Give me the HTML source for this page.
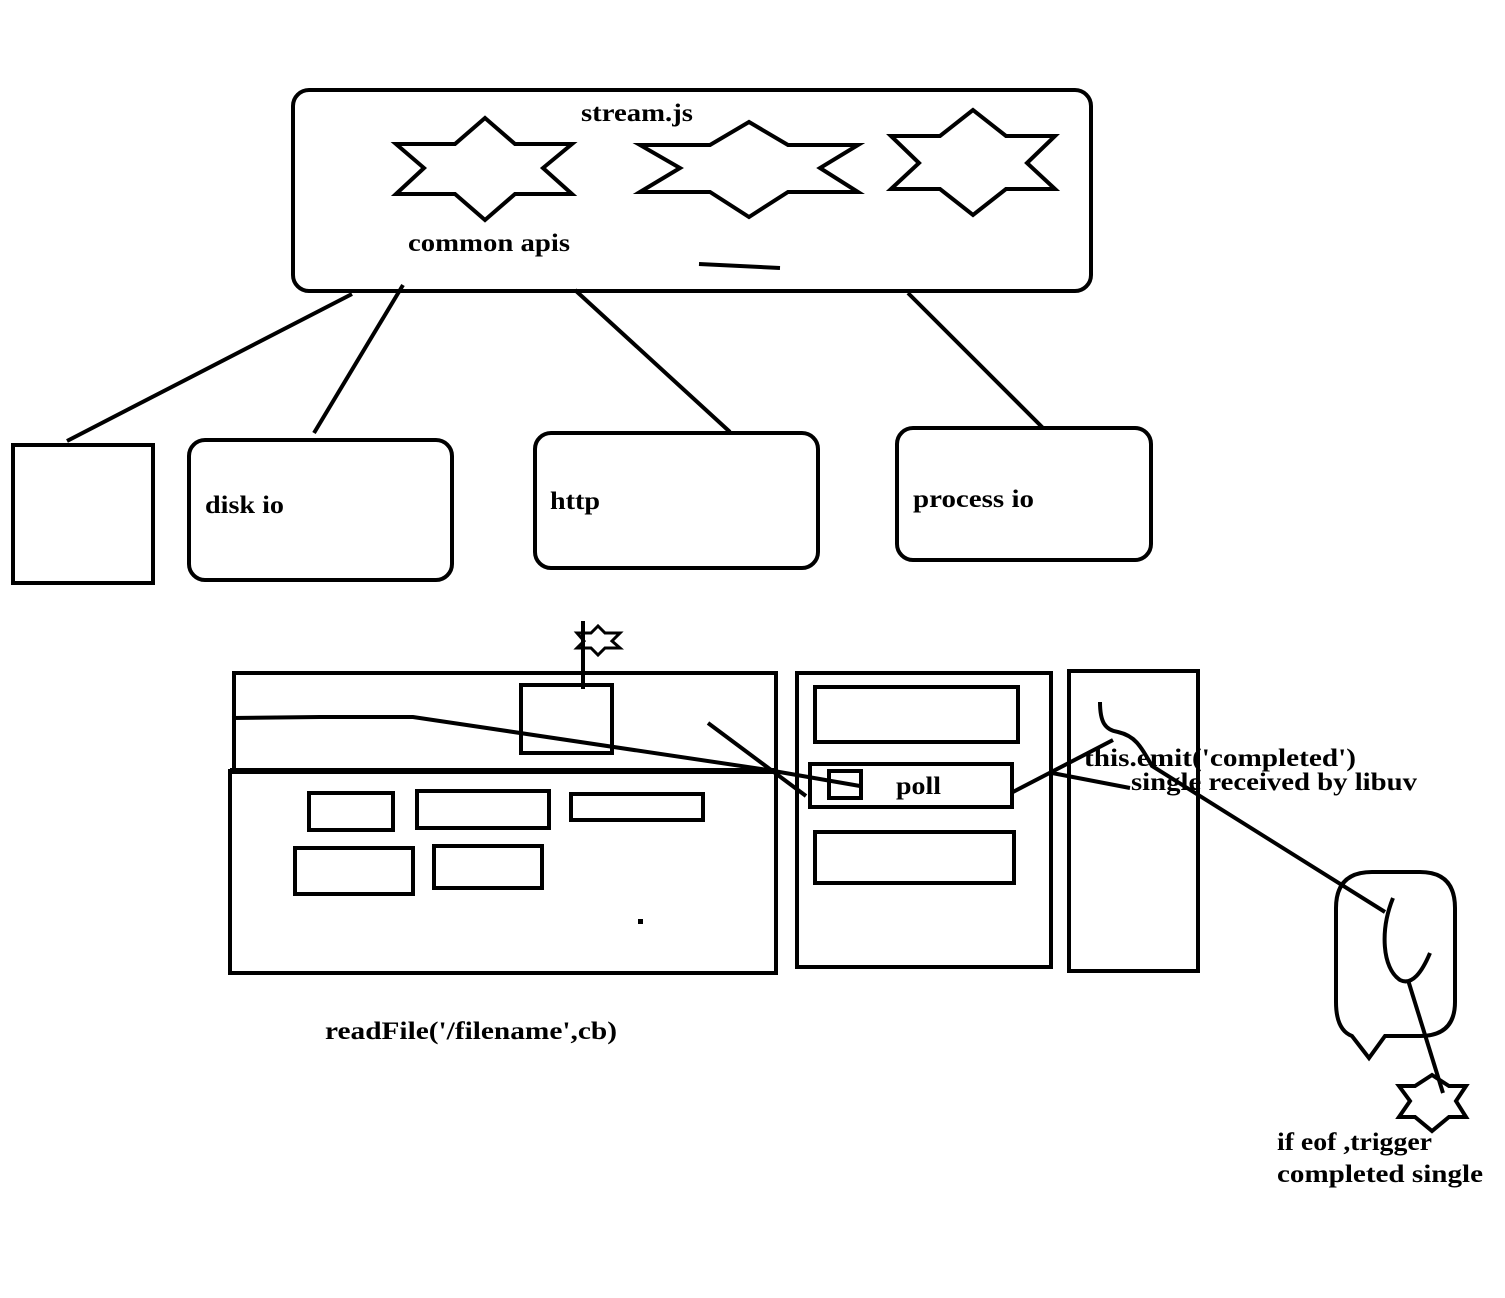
<!DOCTYPE html>
<html><head><meta charset="utf-8"><style>
html,body{margin:0;padding:0;background:#fff;}
svg{display:block;}
text{font-family:"Liberation Serif",serif;font-weight:bold;font-size:25px;fill:#000;}
</style></head><body>
<svg width="1505" height="1298" viewBox="0 0 1505 1298" xmlns="http://www.w3.org/2000/svg">
<g fill="none" stroke="#000" stroke-width="4" stroke-linejoin="miter">
<rect x="293" y="90" width="798" height="201" rx="16"/>
<polygon points="485,118 455,144 396,144 424,168 396,194 455,194 485,220 515,194 572,194 543,168 572,144 515,144"/>
<polygon points="749,122 710,145 640,145 680,168 640,192 710,192 749,217 788,192 858,192 820,168 858,145 788,145"/>
<polygon points="973,110 940,136 891,136 919,163 891,189 940,189 973,215 1006,189 1055,189 1027,163 1055,136 1006,136"/>
<line x1="699" y1="264" x2="780" y2="268"/>
<line x1="352" y1="294" x2="67" y2="441"/>
<line x1="403" y1="285" x2="314" y2="433"/>
<line x1="575" y1="290" x2="730" y2="432"/>
<line x1="908" y1="293" x2="1043" y2="428"/>
<rect x="13" y="445" width="140" height="138"/>
<rect x="189" y="440" width="263" height="140" rx="16"/>
<rect x="535" y="433" width="283" height="135" rx="16"/>
<rect x="897" y="428" width="254" height="132" rx="16"/>

<rect x="234" y="673" width="542" height="98"/>
<rect x="230" y="771" width="546" height="202"/>
<line x1="230" y1="771" x2="776" y2="771" stroke-width="6"/>
<rect x="521" y="685" width="91" height="68"/>
<line x1="583" y1="621" x2="583" y2="689"/>
<polygon points="598,626 591,633 577,633 584,641 577,648 591,648 598,655 605,648 620,648 612,641 620,633 605,633" stroke-width="3"/>
<polyline points="232,718 320,717 413,717 768,770 860,786"/>
<line x1="708" y1="723" x2="806" y2="796"/>
<rect x="309" y="793" width="84" height="37"/>
<rect x="417" y="791" width="132" height="37"/>
<rect x="571" y="794" width="132" height="26"/>
<rect x="295" y="848" width="118" height="46"/>
<rect x="434" y="846" width="108" height="42"/>
<rect x="638" y="919" width="5" height="5" fill="#000" stroke="none"/>

<rect x="797" y="673" width="254" height="294"/>
<rect x="815" y="687" width="203" height="55"/>
<rect x="810" y="764" width="202" height="43"/>
<rect x="829" y="771" width="32" height="27"/>
<rect x="815" y="832" width="199" height="51"/>
<rect x="1069" y="671" width="129" height="300"/>
<polyline points="1011,793 1113,740"/>
<polyline points="1052,773 1130,788"/>
<path d="M1100,702 C1100,722 1105,730 1118,732 C1135,736 1140,745 1152,766 L1385,912"/>
<path d="M1336,908 Q1336,872 1372,872 L1420,872 Q1455,872 1455,908 L1455,1002 Q1455,1036 1420,1036 L1385,1036 L1369,1058 L1352,1036 Q1336,1030 1336,1002 Z"/>
<path d="M1393,898 C1380,930 1382,968 1400,980 C1412,986 1422,972 1430,953"/>
<line x1="1408" y1="980" x2="1443" y2="1093"/>
<polygon points="1432,1075 1415,1086 1399,1086 1410,1101 1399,1117 1415,1117 1432,1131 1449,1117 1466,1117 1456,1101 1466,1086 1449,1086"/>
</g>
<text x="581" y="121" textLength="112" lengthAdjust="spacingAndGlyphs">stream.js</text>
<text x="408" y="251" textLength="162" lengthAdjust="spacingAndGlyphs">common apis</text>
<text x="205" y="513" textLength="79" lengthAdjust="spacingAndGlyphs">disk io</text>
<text x="550" y="509" textLength="50" lengthAdjust="spacingAndGlyphs">http</text>
<text x="913" y="507" textLength="121" lengthAdjust="spacingAndGlyphs">process io</text>
<text x="896" y="794" textLength="45" lengthAdjust="spacingAndGlyphs">poll</text>
<text x="1084" y="766" textLength="272" lengthAdjust="spacingAndGlyphs">this.emit('completed')</text>
<text x="1131" y="790" textLength="286" lengthAdjust="spacingAndGlyphs">single received by libuv</text>
<text x="325" y="1039" textLength="292" lengthAdjust="spacingAndGlyphs">readFile('/filename',cb)</text>
<text x="1277" y="1150" textLength="155" lengthAdjust="spacingAndGlyphs">if eof ,trigger</text>
<text x="1277" y="1182" textLength="206" lengthAdjust="spacingAndGlyphs">completed single</text>
</svg>
</body></html>
